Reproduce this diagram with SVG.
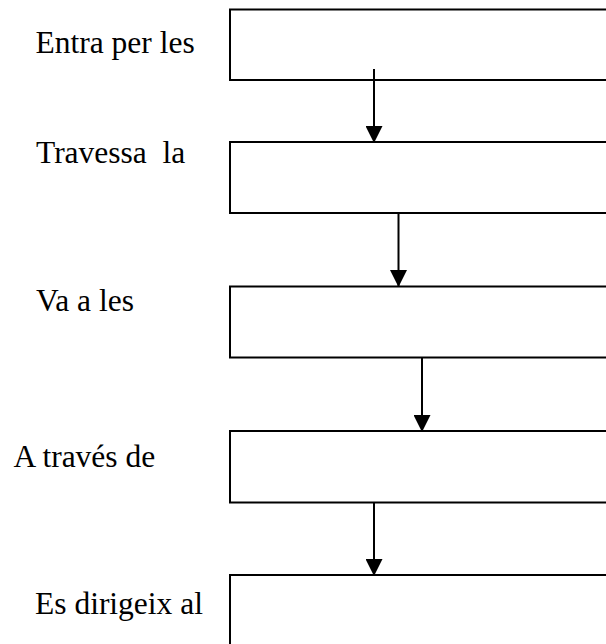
<svg xmlns="http://www.w3.org/2000/svg" width="606" height="644" viewBox="0 0 606 644">
<style>
.box{fill:none;stroke:#000;stroke-width:2}
.lbl{font-family:"Liberation Serif","Times New Roman",serif;font-size:31.5px;fill:#000}
.conn{stroke:#000;stroke-width:2;fill:none}
</style>
<defs>
<marker id="ah" markerUnits="userSpaceOnUse" markerWidth="17" markerHeight="17" viewBox="0 0 16 16" refX="15" refY="8" orient="auto">
<path d="M0,0 L16,8 L0,16 Z" fill="#000"/>
</marker>
</defs>
<rect width="606" height="644" fill="#fff"/>
<g id="node1"><rect class="box" x="230" y="9.5" width="400" height="70.5"/><text class="lbl" x="35.5" y="52.5">Entra per les</text></g>
<g id="node2"><rect class="box" x="230" y="142" width="400" height="71"/><text class="lbl" x="36" y="163" xml:space="preserve">Travessa  la</text></g>
<g id="node3"><rect class="box" x="230" y="286.5" width="400" height="71"/><text class="lbl" x="36" y="311">Va a les</text></g>
<g id="node4"><rect class="box" x="230" y="431" width="400" height="71.5"/><text class="lbl" x="13.5" y="466.5">A través de</text></g>
<g id="node5"><rect class="box" x="230" y="575" width="400" height="100"/><text class="lbl" x="35" y="613.5">Es dirigeix al</text></g>
<g id="connectors">
<line class="conn" x1="374" y1="69" x2="374" y2="142" marker-end="url(#ah)"/>
<line class="conn" x1="398.5" y1="213" x2="398.5" y2="286" marker-end="url(#ah)"/>
<line class="conn" x1="422" y1="357.5" x2="422" y2="431" marker-end="url(#ah)"/>
<line class="conn" x1="374" y1="502.5" x2="374" y2="575" marker-end="url(#ah)"/>
</g>
</svg>
